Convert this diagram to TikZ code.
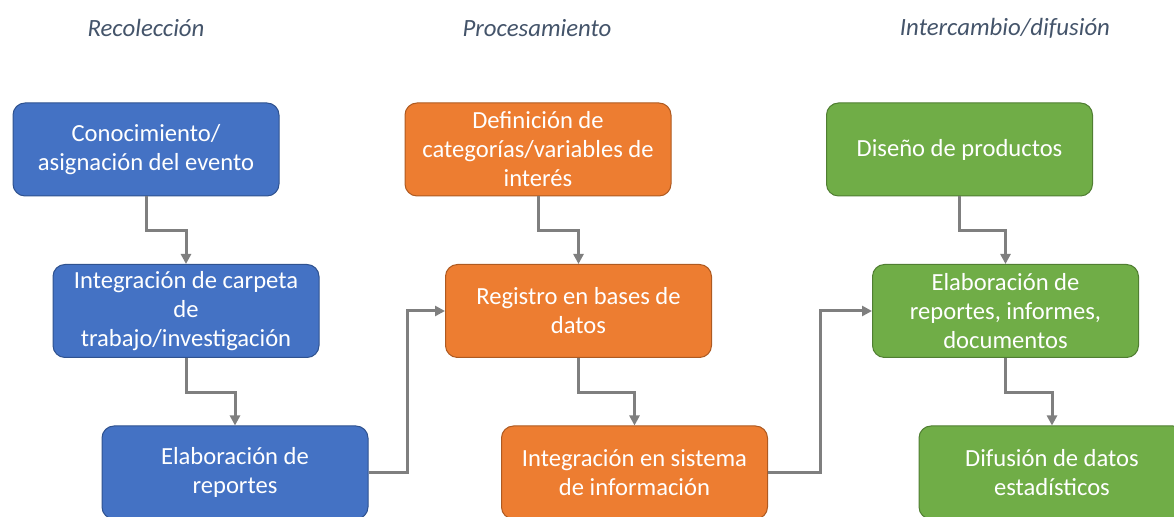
\documentclass[tikz,border=0pt]{standalone}
\usepackage{fontspec}
\setmainfont{Carlito}
\usepackage{xcolor}
\usetikzlibrary{arrows.meta}
\definecolor{boxblue}{HTML}{4472C4}
\definecolor{edgeblue}{HTML}{2F528F}
\definecolor{boxorange}{HTML}{ED7D31}
\definecolor{edgeorange}{HTML}{AE5A21}
\definecolor{boxgreen}{HTML}{70AD47}
\definecolor{edgegreen}{HTML}{507E32}
\definecolor{linkgray}{HTML}{7F7F7F}
\definecolor{headgray}{HTML}{44546A}

\tikzset{
    stage/.style={rectangle, rounded corners=6pt, minimum width=133pt, minimum height=46.5pt,
        align=center, text=white, line width=0.5pt, font=\fontsize{12.3}{14.5}\selectfont},
    bluebox/.style={stage, fill=boxblue, draw=edgeblue},
    orangebox/.style={stage, fill=boxorange, draw=edgeorange},
    greenbox/.style={stage, fill=boxgreen, draw=edgegreen},
    phase/.style={text=headgray, font=\fontsize{12.4}{14}\selectfont\itshape},
    link/.style={-{Triangle[length=5pt,width=5pt]}, draw=linkgray, line width=1.5pt}
}

\begin{document}
\begin{tikzpicture}[x=0.5pt, y=-0.5pt]
            \useasboundingbox (0,0) rectangle (1174,517);

            \node[phase] at (146, 28)   (h1) {Recolección};
            \node[phase] at (537, 28)   (h2) {Procesamiento};
            \node[phase] at (1005, 28)  (h3) {Intercambio/difusión};

            \node[bluebox] at (146, 149.5)   (b1) {Conocimiento/\\asignación del evento};
            \node[bluebox] at (186, 311)     (b2) {Integración de carpeta\\de\\trabajo/investigación};
            \node[bluebox] at (235, 472.5)   (b3) {Elaboración de\\reportes};

            \node[orangebox] at (538, 149.5)   (o1) {Definición de\\categorías/variables de\\interés};
            \node[orangebox] at (578.5, 311)   (o2) {Registro en bases de\\datos};
            \node[orangebox] at (634.5, 472.5) (o3) {Integración en sistema\\de información};

            \node[greenbox] at (959.5, 149.5)  (g1) {Diseño de productos};
            \node[greenbox] at (1005.5, 311)   (g2) {Elaboración de\\reportes, informes,\\documentos};
            \node[greenbox] at (1052, 472.5)   (g3) {Difusión de datos\\estadísticos};

            \draw [link] (b1.south) -- ++(0, 34) -| (b2.north);
            \draw [link] (b2.south) -- ++(0, 35) -| (b3.north);
            \draw [link] (b3.east) -- ++(39, 0) |- (o2.west);
            \draw [link] (o1.south) -- ++(0, 34) -| (o2.north);
            \draw [link] (o2.south) -- ++(0, 35) -| (o3.north);
            \draw [link] (o3.east) -- ++(52, 0) |- (g2.west);
            \draw [link] (g1.south) -- ++(0, 34) -| (g2.north);
            \draw [link] (g2.south) -- ++(0, 35) -| (g3.north);
        \end{tikzpicture}
\end{document}
